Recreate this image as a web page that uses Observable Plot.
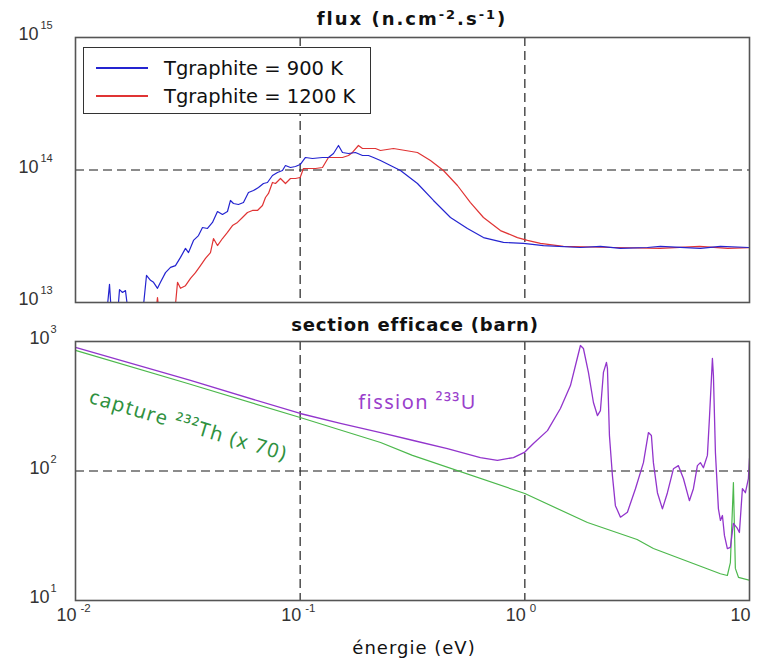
<!DOCTYPE html>
<html><head><meta charset="utf-8">
<script src="https://cdn.jsdelivr.net/npm/d3@7"></script>
<script src="https://cdn.jsdelivr.net/npm/@observablehq/plot@0.6"></script>
<style>
body{margin:0;background:#fff;}
#wrap{position:relative;width:760px;height:665px;overflow:hidden;font-family:"DejaVu Sans",sans-serif;color:#111;}
.panel{position:absolute;left:0;}
.title{position:absolute;white-space:nowrap;transform:translate(-50%,-50%);}
.bold{font-weight:bold;font-size:18px;}
.sup{font-size:0.72em;position:relative;top:-0.5em;}
#legend{position:absolute;left:83px;top:47px;width:286px;height:65px;border:1.5px solid #333;background:#fff;}
.lrow{position:absolute;left:0;height:28px;display:flex;align-items:center;font-size:19.5px;}
.lline{display:inline-block;width:52px;height:0;margin-left:12px;margin-right:16px;}
</style></head>
<body><div id="wrap"></div>
<script>
// ---- data ----
// flux, Tgraphite = 900 K
const flux900E = [0.01374,0.01417,0.01446,0.01538,0.01570,0.01619,0.01669,0.01722,0.01987,0.02070,0.02157,0.02225,0.02317,0.02389,0.02515,0.02648,0.02786,0.02933,0.03087,0.03184,0.03351,0.03527,0.03675,0.03868,0.04071,0.04285,0.04510,0.04747,0.04895,0.05048,0.05313,0.05592,0.05886,0.06196,0.06521,0.06864,0.07152,0.07528,0.07925,0.08340,0.08601,0.09054,0.09530,0.1,0.1056,0.1134,0.1257,0.1336,0.1407,0.1481,0.1543,0.1641,0.1762,0.1894,0.2014,0.2120,0.2277,0.2796,0.3327,0.3920,0.4667,0.5554,0.6544,0.8030,0.9858,1.210,1.768,2.170,2.664,3.513,4.013,6.046,7.423,10];
const flux900 = [8e12,1.37e13,8e12,8e12,1.25e13,1.19e13,1.23e13,8e12,8e12,1.60e13,1.47e13,1.42e13,1.28e13,1.42e13,1.68e13,1.84e13,1.90e13,2.19e13,2.56e13,2.38e13,2.94e13,3.20e13,3.68e13,3.62e13,4.02e13,4.86e13,4.62e13,4.86e13,5.89e13,5.59e13,5.49e13,5.68e13,6.76e13,7.00e13,7.38e13,7.91e13,8.05e13,9.09e13,9.58e13,9.91e13,1.081e14,1.044e14,1.063e14,1.100e14,1.243e14,1.221e14,1.243e14,1.243e14,1.332e14,1.531e14,1.356e14,1.332e14,1.356e14,1.287e14,1.287e14,1.243e14,1.179e14,9.91e13,7.91e13,5.89e13,4.38e13,3.62e13,3.09e13,2.84e13,2.79e13,2.69e13,2.60e13,2.65e13,2.56e13,2.60e13,2.65e13,2.56e13,2.65e13,2.60e13];
// flux, Tgraphite = 1200 K
const flux1200E = [0.02270,0.02317,0.02365,0.02758,0.02845,0.02933,0.03087,0.03250,0.03420,0.03600,0.03789,0.03988,0.04113,0.04285,0.04510,0.04747,0.04996,0.05260,0.05535,0.05826,0.06133,0.06455,0.06794,0.07008,0.07227,0.07528,0.07764,0.08172,0.08601,0.09054,0.09530,0.1,0.1034,0.1089,0.1170,0.1257,0.1296,0.1336,0.1436,0.1543,0.1641,0.1709,0.1817,0.1894,0.2014,0.2164,0.2277,0.2601,0.3327,0.3801,0.4342,0.5012,0.5728,0.6544,0.7787,0.9271,1.027,1.173,1.485,2.5,4,6,8,10];
const flux1200 = [8e12,1.09e13,8e12,8e12,1.42e13,1.28e13,1.34e13,1.52e13,1.68e13,1.90e13,2.15e13,2.38e13,3.04e13,2.69e13,3.04e13,3.38e13,3.81e13,4.02e13,4.38e13,4.78e13,4.95e13,4.95e13,5.40e13,6.20e13,6.65e13,8.05e13,7.91e13,8.63e13,7.91e13,8.63e13,8.63e13,8.78e13,1.026e14,1.026e14,1.026e14,1.044e14,1.139e14,1.243e14,1.243e14,1.243e14,1.287e14,1.356e14,1.531e14,1.453e14,1.453e14,1.453e14,1.404e14,1.453e14,1.356e14,1.179e14,9.91e13,7.64e13,5.68e13,4.38e13,3.49e13,3.09e13,2.94e13,2.79e13,2.65e13,2.60e13,2.56e13,2.65e13,2.56e13,2.60e13];
// fission 233U cross section (barn)
const fissionE = [0.01,0.0325,0.1,0.151,0.228,0.319,0.452,0.634,0.755,0.890,1.0,1.092,1.261,1.44,1.596,1.68,1.768,1.823,1.919,2.02,2.104,2.17,2.238,2.308,2.332,2.38,2.454,2.53,2.665,2.861,3.107,3.372,3.549,3.659,3.735,3.892,4.097,4.312,4.585,4.826,5.08,5.401,5.627,5.863,6.046,6.235,6.496,6.631,6.838,6.909,7.052,7.272,7.423,7.577,7.734,7.971,8.222,8.479,8.835,9.018,9.299,9.59,9.888,10];
const fissionXS = [900,500,278,233,198,172,149,127,121,127,140,163,205,304,457,653,931,883,577,338,268,293,577,689,619,188,92,54,44,48,73,116,198,188,116,68,51,68,104,110,87.5,59,73,110,116,106,132,254,740,546,139,51,41.5,45.3,31.8,25.2,25.7,39.4,36,33.5,73,68,87.5,125];
// capture 232Th cross section x 70 (barn)
const captureE = [0.01,0.0316,0.1,0.228,0.316,1.0,1.90,3.16,3.735,7.42,7.97,8.22,8.48,8.65,8.93,10];
const captureXS = [853,474,259,166,132,67,40,29.6,25.2,16.1,15.6,19.6,81.5,17.7,15.1,14.3];
// ticks, grid, labels
const energyTicks = [0.01,0.1,1,10];
const energyTickExp = ["-2","-1","0",""];
const fluxTicks = [1e13,1e14,1e15];
const fluxTickExp = ["13","14","15"];
const xsTicks = [10,100,1000];
const xsTickExp = ["1","2","3"];
const gridEnergy = [0.1,1];
const gridFlux = [1e14];
const gridXS = [100];
const seriesNames = ["Tgraphite = 900 K","Tgraphite = 1200 K"];
const seriesColors = ["#2424d0","#e03434"];
const fissionColor = "#9235cc";
const captureColor = "#4cb84c";
const annoLabels = ["capture \u00b2\u00b3\u00b2Th (x 70)","fission \u00b2\u00b3\u00b3U"];
const annoE = [0.0318,0.333];
const annoXS = [224,338];

const pts = (xs, ys) => xs.map((x,i)=>({E:x, v:ys[i]}));
const s900 = pts(flux900E, flux900), s1200 = pts(flux1200E, flux1200);
const fis = pts(fissionE, fissionXS), cap = pts(captureE, captureXS);

const tickFont = "Liberation Sans, Arial, sans-serif";
function yTickMarks(ticks, exps, dx10, dxExp){
  return [
    Plot.text(ticks, {y:d=>d, frameAnchor:"left", text:()=>"10", textAnchor:"end", dx:dx10, dy:-3, fontSize:18, fontFamily:tickFont, fill:"#333"}),
    Plot.text(ticks, {y:d=>d, frameAnchor:"left", text:(d,i)=>exps[i], textAnchor:"start", dx:dxExp, dy:-12, fontSize:11, fontFamily:tickFont, fill:"#333"})
  ];
}

const topChart = Plot.plot({
  width:760, height:310, marginTop:37, marginBottom:8, marginLeft:75, marginRight:11,
  x:{type:"log", domain:[0.01,10], axis:null},
  y:{type:"log", domain:[1e13,1e15], axis:null},
  style:{background:"transparent"},
  marks:[
    Plot.ruleY(gridFlux, {stroke:"#666", strokeWidth:1.5, strokeDasharray:"9,5"}),
    Plot.ruleX(gridEnergy, {stroke:"#333", strokeWidth:1.3, strokeDasharray:"9,5"}),
    Plot.line(s1200, {x:"E", y:"v", stroke:seriesColors[1], strokeWidth:1.2, clip:true}),
    Plot.line(s900, {x:"E", y:"v", stroke:seriesColors[0], strokeWidth:1.2, clip:true}),
    Plot.frame({stroke:"#555", strokeWidth:1.6}),
    ...yTickMarks(fluxTicks, fluxTickExp, -37, -35)
  ]
});

const bottomChart = Plot.plot({
  width:760, height:355, marginTop:31, marginBottom:65, marginLeft:75, marginRight:11,
  x:{type:"log", domain:[0.01,10], axis:null},
  y:{type:"log", domain:[10,1000], axis:null},
  style:{background:"transparent"},
  marks:[
    Plot.ruleY(gridXS, {stroke:"#666", strokeWidth:1.5, strokeDasharray:"9,5"}),
    Plot.ruleX(gridEnergy, {stroke:"#333", strokeWidth:1.3, strokeDasharray:"9,5"}),
    Plot.line(cap, {x:"E", y:"v", stroke:captureColor, strokeWidth:1.2, clip:true}),
    Plot.line(fis, {x:"E", y:"v", stroke:fissionColor, strokeWidth:1.3, clip:true}),
    Plot.text([0], {x:()=>annoE[0], y:()=>annoXS[0], text:()=>annoLabels[0], rotate:16.5, fontSize:20, fill:"#2f9140"}),
    Plot.text([1], {x:()=>annoE[1], y:()=>annoXS[1], text:()=>annoLabels[1], fontSize:20, fill:"#9a3fcc"}),
    Plot.frame({stroke:"#555", strokeWidth:1.6}),
    ...yTickMarks(xsTicks, xsTickExp, -26, -25),
    Plot.text(energyTicks, {x:d=>d, frameAnchor:"bottom", text:()=>"10", textAnchor:"end", dx:1, dy:20, fontSize:18, fontFamily:tickFont, fill:"#333"}),
    Plot.text(energyTicks, {x:d=>d, frameAnchor:"bottom", text:(d,i)=>energyTickExp[i], textAnchor:"start", dx:5, dy:11, fontSize:11.5, fontFamily:tickFont, fill:"#333"})
  ]
});
// widen the hand-lettered annotations a little, like the reference's font
d3.select(bottomChart).selectAll("text")
  .filter(function(){ return annoLabels.includes(this.textContent); })
  .style("letter-spacing","1.4px");

const wrap = document.getElementById("wrap");
topChart.classList.add("panel"); topChart.style.top = "0px";
bottomChart.classList.add("panel"); bottomChart.style.top = "310px";
wrap.appendChild(topChart); wrap.appendChild(bottomChart);

function addDiv(cls, html, x, y){
  const d = document.createElement("div");
  d.className = cls; d.innerHTML = html;
  d.style.left = x + "px"; d.style.top = y + "px";
  wrap.appendChild(d); return d;
}
const t1 = addDiv("title bold", 'flux (n.cm<span class="sup">-2</span>.s<span class="sup">-1</span>)', 412, 18);
t1.style.letterSpacing = "2px";
const t2 = addDiv("title bold", 'section efficace (barn)', 415, 324);
t2.style.letterSpacing = "0.8px";
const xl = addDiv("title", '\u00e9nergie (eV)', 414, 647);
xl.style.fontSize = "18px"; xl.style.letterSpacing = "1px";

const legend = document.createElement("div");
legend.id = "legend";
seriesNames.forEach((name,i)=>{
  const row = document.createElement("div");
  row.className = "lrow"; row.style.top = (6 + i*28) + "px";
  row.innerHTML = `<span class="lline" style="border-top:2px solid ${seriesColors[i]}"></span><span>${name}</span>`;
  legend.appendChild(row);
});
wrap.appendChild(legend);
</script></body></html>
